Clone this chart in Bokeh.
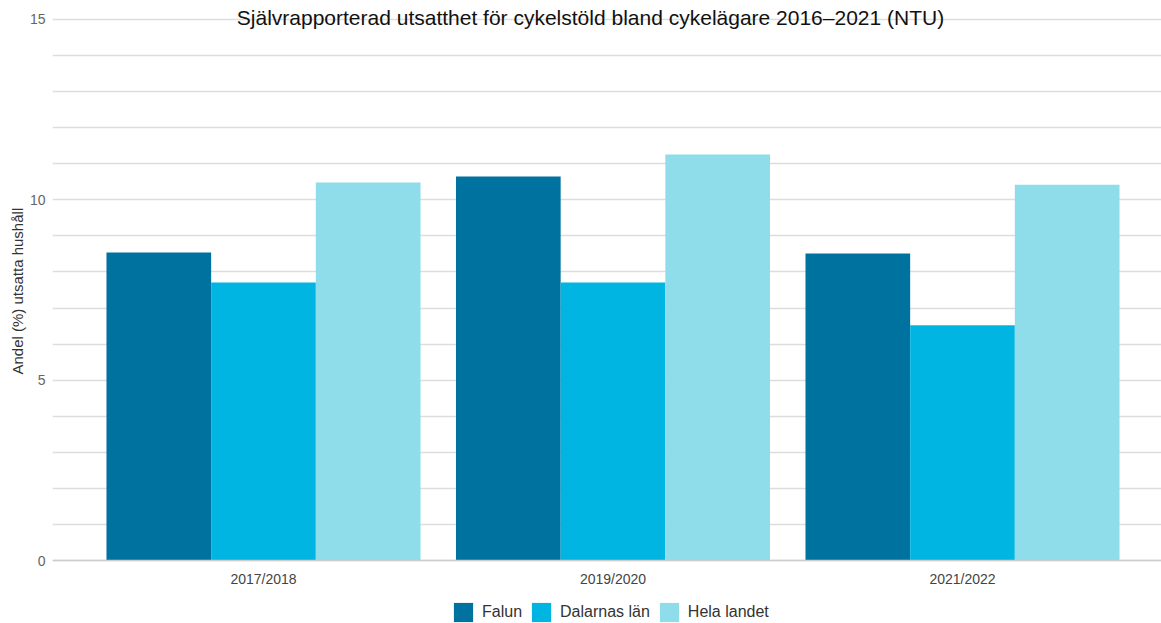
from bokeh.plotting import figure
from bokeh.models import (ColumnDataSource, Range1d, FixedTicker, Label, Legend, LegendItem)
from bokeh.transform import dodge
from bokeh.embed import file_html
from bokeh.resources import INLINE

# ---- data ----
periods = ["2017/2018", "2019/2020", "2021/2022"]
series = ["Falun", "Dalarnas län", "Hela landet"]
falun = [8.54, 10.65, 8.51]
dalarna = [7.71, 7.71, 6.52]
hela = [10.48, 11.26, 10.42]
colors = ["#0072A0", "#00B5E2", "#8FDCEA"]
title_text = "Självrapporterad utsatthet för cykelstöld bland cykelägare 2016–2021 (NTU)"
y_label = "Andel (%) utsatta hushåll"
y_ticks = [0, 5, 10, 15]

xs = list(range(len(periods)))
src = ColumnDataSource(dict(x=xs, falun=falun, dalarna=dalarna, hela=hela))

FONT = "Liberation Sans"

p = figure(width=1161, height=623, output_backend="svg", toolbar_location=None,
           x_range=Range1d(-0.6037, 2.5694), y_range=Range1d(-1.7466, 15.5267),
           min_border_left=52, min_border_right=0, min_border_top=0, min_border_bottom=0,
           outline_line_color=None, background_fill_color="white", border_fill_color="white")

bw = 0.2995
renderers = []
for i, (col, c) in enumerate(zip(["falun", "dalarna", "hela"], colors)):
    r = p.vbar(x=dodge("x", (i - 1) * bw, range=p.x_range), top=col, width=bw,
               source=src, fill_color=c, line_color=None)
    renderers.append(r)

# x axis drawn at y = 0
p.xaxis.fixed_location = 0
p.xaxis.ticker = FixedTicker(ticks=xs)
p.xaxis.major_label_overrides = {i: s for i, s in enumerate(periods)}
p.xaxis.major_label_text_font = FONT
p.xaxis.major_label_text_font_size = "14px"
p.xaxis.major_label_text_color = "#444444"
p.xaxis.major_tick_line_color = None
p.xaxis.minor_tick_line_color = None
p.xaxis.axis_line_color = "#cccccc"
p.xaxis.axis_line_width = 1.5
p.xaxis.major_label_standoff = 4

p.yaxis.ticker = FixedTicker(ticks=y_ticks)
p.yaxis.major_label_text_font = FONT
p.yaxis.major_label_text_font_size = "14px"
p.yaxis.major_label_text_color = "#666666"
p.yaxis.major_tick_line_color = None
p.yaxis.minor_tick_line_color = None
p.yaxis.axis_line_color = None
p.yaxis.major_label_standoff = 1
p.yaxis.axis_label = "\u00a0" * 10 + y_label
p.yaxis.axis_label_text_font = FONT
p.yaxis.axis_label_text_font_size = "15px"
p.yaxis.axis_label_text_font_style = "normal"
p.yaxis.axis_label_text_color = "#333333"
p.yaxis.axis_label_standoff = 1

p.xgrid.grid_line_color = None
p.ygrid.ticker = FixedTicker(ticks=list(range(0, 16)))
p.ygrid.grid_line_color = "#dddddd"
p.ygrid.grid_line_width = 1.5

# title
p.add_layout(Label(x=0.9356, y=15, x_units="data", y_units="data", y_offset=2,
                   text=title_text, text_font=FONT, text_font_size="21px",
                   text_color="#111111", text_align="center", text_baseline="alphabetic"))

legend = Legend(items=[LegendItem(label=s, renderers=[r]) for s, r in zip(series, renderers)],
                orientation="horizontal", location=(399, -1),
                glyph_width=24, glyph_height=24, label_standoff=7, spacing=7,
                padding=0, margin=0, border_line_color=None, background_fill_alpha=0,
                label_text_font=FONT, label_text_font_size="16px", label_text_color="#333333",
                label_height=24)
p.add_layout(legend, "center")

open("out.html", "w").write(file_html(p, INLINE))
